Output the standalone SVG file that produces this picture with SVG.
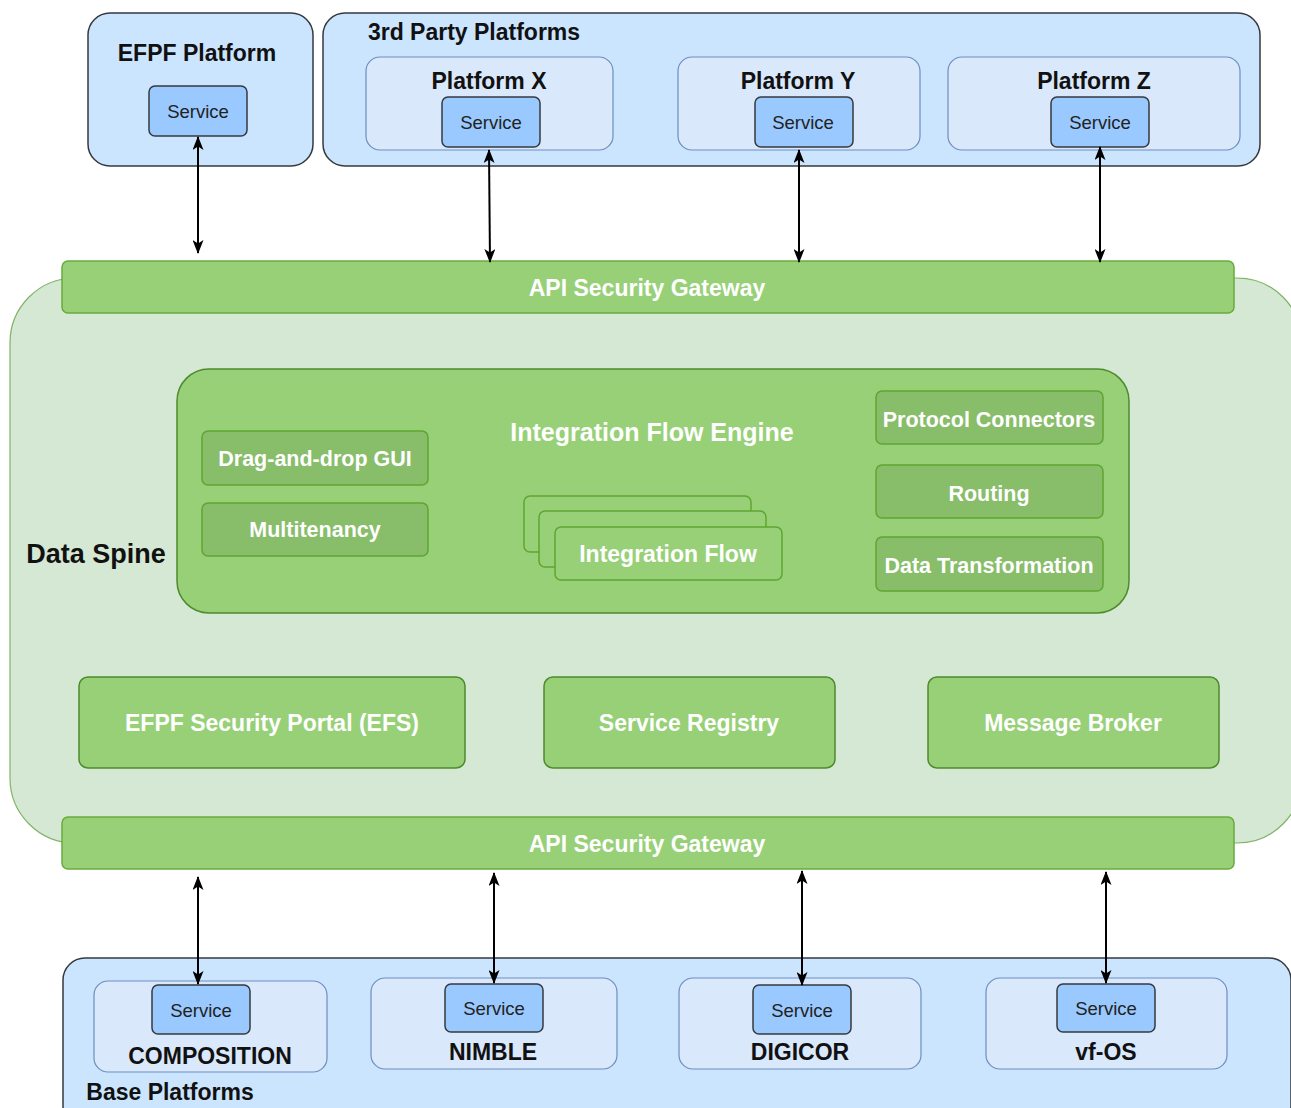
<svg xmlns="http://www.w3.org/2000/svg" width="1291" height="1108" viewBox="0 0 1291 1108">
<defs>
<style>
text{font-family:"Liberation Sans",Arial,sans-serif;font-weight:bold;text-anchor:middle;}
.plat{fill:#cce5ff;stroke:#36393d;stroke-width:1.5;}
.sub{fill:#dae8fc;stroke:#6c8ebf;stroke-width:1.2;}
.svc{fill:#99c9ff;stroke:#36393d;stroke-width:1.5;}
.svct{font-weight:normal;font-size:18.5px;fill:#222;}
.ttl{font-size:23px;fill:#111;}
.gw{fill:#97d077;stroke:#6aaa3e;stroke-width:1.5;}
.spine{fill:#d5e8d4;stroke:#82b366;stroke-width:1.2;}
.ife{fill:#97d077;stroke:#4f8a2c;stroke-width:1.5;}
.mod{fill:#88bd6a;stroke:#5fa531;stroke-width:1.5;}
.flow{fill:#97d077;stroke:#5fa531;stroke-width:1.5;}
.comp{fill:#97d077;stroke:#4f8a2c;stroke-width:1.5;}
.wt{fill:#fff;}
.m{font-size:21.5px;}
.c{font-size:23px;}
</style>
<marker id="ah" viewBox="0 0 14 11" refX="13" refY="5.5" markerWidth="14" markerHeight="11" markerUnits="userSpaceOnUse" orient="auto-start-reverse">
<path d="M0,0 L14,5.5 L0,11 L3.5,5.5 Z" fill="#000"/>
</marker>
</defs>
<rect width="1291" height="1108" fill="#fff"/>

<g id="data-spine">
<rect class="spine" x="10" y="278" width="1292" height="565" rx="65"/>
<text x="96" y="563" style="font-size:27px;fill:#111;">Data Spine</text>
</g>

<g id="efpf-platform">
<rect class="plat" x="88" y="13" width="225" height="153" rx="22"/>
<text class="ttl" x="197" y="61">EFPF Platform</text>
<rect class="svc" x="149" y="86" width="98" height="50" rx="6"/>
<text class="svct" x="198" y="118">Service</text>
</g>

<g id="third-party">
<rect class="plat" x="323" y="13" width="937" height="153" rx="22"/>
<text class="ttl" x="474" y="40">3rd Party Platforms</text>
</g>
<g id="platform-x">
<rect class="sub" x="366" y="57" width="247" height="93" rx="14"/>
<text class="ttl" x="489" y="89">Platform X</text>
<rect class="svc" x="442" y="97" width="98" height="50" rx="6"/>
<text class="svct" x="491" y="129">Service</text>
</g>
<g id="platform-y">
<rect class="sub" x="678" y="57" width="242" height="93" rx="14"/>
<text class="ttl" x="798" y="89">Platform Y</text>
<rect class="svc" x="755" y="97" width="98" height="50" rx="6"/>
<text class="svct" x="803" y="129">Service</text>
</g>
<g id="platform-z">
<rect class="sub" x="948" y="57" width="292" height="93" rx="14"/>
<text class="ttl" x="1094" y="89">Platform Z</text>
<rect class="svc" x="1051" y="97" width="98" height="50" rx="6"/>
<text class="svct" x="1100" y="129">Service</text>
</g>

<g id="gateway-top">
<rect class="gw" x="62" y="261" width="1172" height="52" rx="6"/>
<text class="wt c" x="647" y="296">API Security Gateway</text>
</g>

<g id="integration-flow-engine">
<rect class="ife" x="177" y="369" width="952" height="244" rx="32"/>
<text class="wt" x="652" y="441" style="font-size:25px;">Integration Flow Engine</text>
</g>
<g id="drag-and-drop">
<rect class="mod" x="202" y="431" width="226" height="54" rx="6"/>
<text class="wt m" x="315" y="466">Drag-and-drop GUI</text>
</g>
<g id="multitenancy">
<rect class="mod" x="202" y="503" width="226" height="53" rx="6"/>
<text class="wt m" x="315" y="537">Multitenancy</text>
</g>
<g id="integration-flow">
<rect class="flow" x="524" y="496" width="227" height="56" rx="6"/>
<rect class="flow" x="539" y="511" width="227" height="56" rx="6"/>
<rect class="flow" x="555" y="527" width="227" height="53" rx="6"/>
<text class="wt c" x="668" y="562">Integration Flow</text>
</g>
<g id="protocol-connectors">
<rect class="mod" x="876" y="391" width="227" height="53" rx="6"/>
<text class="wt m" x="989" y="427">Protocol Connectors</text>
</g>
<g id="routing">
<rect class="mod" x="876" y="465" width="227" height="53" rx="6"/>
<text class="wt m" x="989" y="501">Routing</text>
</g>
<g id="data-transformation">
<rect class="mod" x="876" y="537" width="227" height="54" rx="6"/>
<text class="wt m" x="989" y="573">Data Transformation</text>
</g>

<g id="efs">
<rect class="comp" x="79" y="677" width="386" height="91" rx="9"/>
<text class="wt c" x="272" y="731">EFPF Security Portal (EFS)</text>
</g>
<g id="service-registry">
<rect class="comp" x="544" y="677" width="291" height="91" rx="9"/>
<text class="wt c" x="689" y="731">Service Registry</text>
</g>
<g id="message-broker">
<rect class="comp" x="928" y="677" width="291" height="91" rx="9"/>
<text class="wt c" x="1073" y="731">Message Broker</text>
</g>

<g id="gateway-bottom">
<rect class="gw" x="62" y="817" width="1172" height="52" rx="6"/>
<text class="wt c" x="647" y="852">API Security Gateway</text>
</g>

<g id="base-platforms">
<rect class="plat" x="63" y="958" width="1228" height="170" rx="22"/>
<text class="ttl" x="170" y="1100">Base Platforms</text>
</g>
<g id="composition">
<rect class="sub" x="94" y="981" width="233" height="91" rx="14"/>
<rect class="svc" x="152" y="985" width="98" height="49" rx="6"/>
<text class="svct" x="201" y="1017">Service</text>
<text class="ttl" x="210" y="1064">COMPOSITION</text>
</g>
<g id="nimble">
<rect class="sub" x="371" y="978" width="246" height="91" rx="14"/>
<rect class="svc" x="445" y="984" width="98" height="48" rx="6"/>
<text class="svct" x="494" y="1015">Service</text>
<text class="ttl" x="493" y="1060">NIMBLE</text>
</g>
<g id="digicor">
<rect class="sub" x="679" y="978" width="242" height="91" rx="14"/>
<rect class="svc" x="753" y="985" width="98" height="49" rx="6"/>
<text class="svct" x="802" y="1017">Service</text>
<text class="ttl" x="800" y="1060">DIGICOR</text>
</g>
<g id="vf-os">
<rect class="sub" x="986" y="978" width="241" height="91" rx="14"/>
<rect class="svc" x="1057" y="984" width="98" height="48" rx="6"/>
<text class="svct" x="1106" y="1015">Service</text>
<text class="ttl" x="1106" y="1060">vf-OS</text>
</g>

<g id="connectors" stroke="#000" stroke-width="2" marker-start="url(#ah)" marker-end="url(#ah)">
<line x1="198" y1="137" x2="198" y2="253" marker-start="url(#ah)" marker-end="url(#ah)"/>
<line x1="489" y1="150" x2="490" y2="262" marker-start="url(#ah)" marker-end="url(#ah)"/>
<line x1="799" y1="150" x2="799" y2="262" marker-start="url(#ah)" marker-end="url(#ah)"/>
<line x1="1100" y1="147" x2="1100" y2="262" marker-start="url(#ah)" marker-end="url(#ah)"/>
<line x1="198" y1="877" x2="198" y2="984" marker-start="url(#ah)" marker-end="url(#ah)"/>
<line x1="494" y1="873" x2="494" y2="983" marker-start="url(#ah)" marker-end="url(#ah)"/>
<line x1="802" y1="871" x2="802" y2="985" marker-start="url(#ah)" marker-end="url(#ah)"/>
<line x1="1106" y1="872" x2="1106" y2="983" marker-start="url(#ah)" marker-end="url(#ah)"/>
</g>
</svg>
